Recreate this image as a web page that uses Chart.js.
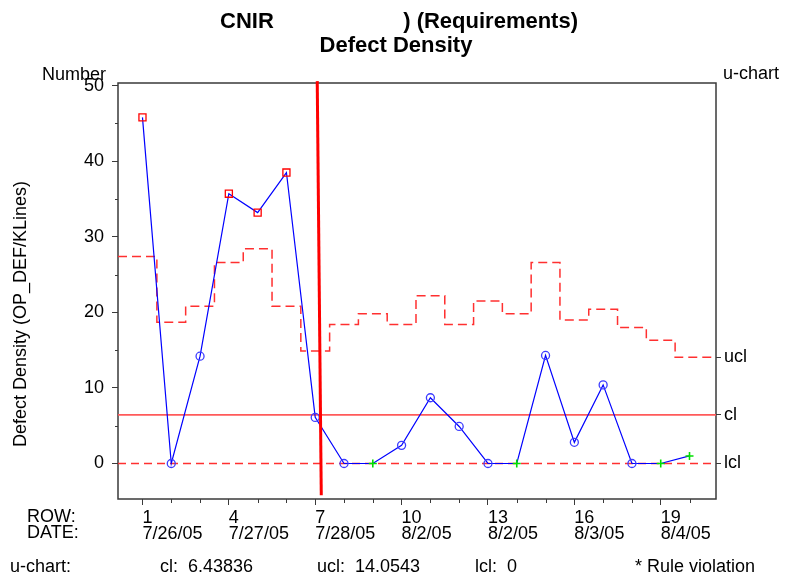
<!DOCTYPE html>
<html>
<head>
<meta charset="utf-8">
<script src="https://cdn.jsdelivr.net/npm/chart.js@4.4.1/dist/chart.umd.min.js"></script>
<style>
  html, body { margin: 0; padding: 0; background: #fff; }
  #wrap { width: 786px; height: 579px; position: relative; }
</style>
</head>
<body>
<div id="wrap"><canvas id="uChart"></canvas></div>
<script>
// --- values ---
const rows = [1, 2, 3, 4, 5, 6, 7, 8, 9, 10, 11, 12, 13, 14, 15, 16, 17, 18, 19, 20];
const defectDensity = [45.8, 0, 14.2, 35.7, 33.2, 38.5, 6.1, 0, 0, 2.4, 8.7, 4.9, 0, 0, 14.3, 2.8, 10.4, 0, 0, 1.0];
const uclSteps = [27.4, 18.7, 20.8, 26.6, 28.4, 20.8, 14.9, 18.4, 19.8, 18.4, 22.2, 18.4, 21.5, 19.8, 26.6, 19.0, 20.4, 18.0, 16.3, 14.0543];
// rule = rule violation (square), ok = normal (circle), plus = green cross
const pointKind = ['rule', 'ok', 'ok', 'rule', 'rule', 'rule', 'ok', 'ok', 'plus', 'ok',
                   'ok', 'ok', 'ok', 'plus', 'ok', 'ok', 'ok', 'ok', 'plus', 'plus'];
const tickRows = [1, 4, 7, 10, 13, 16, 19];
const tickDates = ['7/26/05', '7/27/05', '7/28/05', '8/2/05', '8/2/05', '8/3/05', '8/4/05'];
const yMajor = [0, 10, 20, 30, 40, 50];
const yMinor = [5, 15, 25, 35, 45];
const centerLine = 6.43836;
const upperLimit = 14.0543;
const lowerLimit = 0;
const limitNames = ['lcl', 'cl', 'ucl'];
const phaseX = [7.07, 7.21];   // phase-change marker (slightly slanted in the original)
const phaseY = [50.6, -4.2];

const X_MIN = 0.15, X_MAX = 20.92;
const Y_MIN = -4.7, Y_MAX = 50.35;
const FONT = '"Liberation Sans", Arial, Helvetica, sans-serif';

// step line for the varying upper limit
const uclPoints = [];
uclSteps.forEach((u, i) => {
    uclPoints.push({ x: i === 0 ? X_MIN : rows[i] - 0.5, y: u });
    uclPoints.push({ x: i === uclSteps.length - 1 ? X_MAX : rows[i] + 0.5, y: u });
});

const markerStyle = { rule: 'rect', ok: 'circle', plus: 'cross' };
const markerColor = { rule: '#ff0000', ok: '#3c3cff', plus: '#00e000' };
const markerRadius = { rule: 5, ok: 4, plus: 4 };

// frame, minor ticks and the free text around the plot
const decorations = {
    id: 'decorations',
    beforeDatasetsDraw(chart) {
        const { ctx, chartArea: a } = chart;
        ctx.save();
        ctx.strokeStyle = '#3a3a3a';
        ctx.lineWidth = 1.5;
        ctx.strokeRect(a.left, a.top, a.right - a.left, a.bottom - a.top);
        ctx.restore();
    },
    afterDraw(chart) {
        const { ctx, chartArea: a, scales } = chart;
        ctx.save();

        // minor ticks
        ctx.strokeStyle = '#3a3a3a';
        ctx.lineWidth = 1;
        rows.filter(r => !tickRows.includes(r)).forEach(r => {
            const px = Math.round(scales.x.getPixelForValue(r)) + 0.5;
            ctx.beginPath(); ctx.moveTo(px, a.bottom); ctx.lineTo(px, a.bottom + 4); ctx.stroke();
        });
        yMinor.forEach(v => {
            const py = Math.round(scales.y.getPixelForValue(v)) + 0.5;
            ctx.beginPath(); ctx.moveTo(a.left - 3, py); ctx.lineTo(a.left, py); ctx.stroke();
        });

        ctx.fillStyle = '#000';
        ctx.textBaseline = 'alphabetic';

        // title
        ctx.font = 'bold 22px ' + FONT;
        ctx.textAlign = 'left';
        ctx.fillText('CNIR', 220, 28);
        ctx.textAlign = 'right';
        ctx.fillText(') (Requirements)', 578, 28);
        ctx.textAlign = 'center';
        ctx.fillText('Defect Density', 396, 52);

        ctx.font = '18px ' + FONT;
        ctx.textAlign = 'left';
        ctx.fillText('Number', 42, 80);
        ctx.fillText('u-chart', 723, 79);

        ctx.fillText('ROW:', 27, 522);
        ctx.fillText('DATE:', 27, 538);

        ctx.fillText('u-chart:', 10, 572);
        ctx.fillText('cl:  ' + centerLine, 160, 572);
        ctx.fillText('ucl:  ' + upperLimit, 317, 572);
        ctx.fillText('lcl:  ' + lowerLimit, 475, 572);
        ctx.fillText('* Rule violation', 635, 572);

        // y axis title
        ctx.translate(21, 314);
        ctx.rotate(-Math.PI / 2);
        ctx.textAlign = 'center';
        ctx.textBaseline = 'middle';
        ctx.fillText('Defect Density (OP_DEF/KLines)', 0, 0);

        ctx.restore();
    }
};

const ctx = document.getElementById('uChart').getContext('2d');

new Chart(ctx, {
    type: 'line',
    data: {
        datasets: [
            {
                label: 'phase',
                data: phaseX.map((x, i) => ({ x, y: phaseY[i] })),
                borderColor: '#ff0000',
                borderWidth: 3,
                pointRadius: 0,
                clip: false,
                order: 0
            },
            {
                label: 'Defect Density',
                data: rows.map((r, i) => ({ x: r, y: defectDensity[i] })),
                borderColor: '#0000ff',
                borderWidth: 1.2,
                pointStyle: pointKind.map(k => markerStyle[k]),
                pointRadius: pointKind.map(k => markerRadius[k]),
                pointBorderColor: pointKind.map(k => markerColor[k]),
                pointBackgroundColor: 'rgba(0,0,0,0)',
                pointBorderWidth: pointKind.map(k => k === 'plus' ? 1.6 : 1.3),
                order: 1
            },
            {
                label: 'ucl',
                data: uclPoints,
                borderColor: '#ff3030',
                borderWidth: 1.5,
                borderDash: [9, 5],
                pointRadius: 0,
                order: 2
            },
            {
                label: 'cl',
                data: [{ x: X_MIN, y: centerLine }, { x: X_MAX, y: centerLine }],
                borderColor: '#ff5a5a',
                borderWidth: 1.6,
                pointRadius: 0,
                order: 3
            },
            {
                label: 'lcl',
                data: [{ x: X_MIN, y: lowerLimit }, { x: X_MAX, y: lowerLimit }],
                borderColor: '#ff3030',
                borderWidth: 1.5,
                borderDash: [8, 5],
                pointRadius: 0,
                order: 4
            }
        ]
    },
    options: {
        responsive: true,
        maintainAspectRatio: false,
        animation: false,
        layout: { padding: { top: 83, left: 0, right: 0, bottom: 0 } },
        plugins: {
            legend: { display: false },
            tooltip: { enabled: false },
            title: { display: false }
        },
        scales: {
            x: {
                type: 'linear',
                min: X_MIN,
                max: X_MAX,
                afterBuildTicks: s => { s.ticks = tickRows.map(v => ({ value: v })); },
                afterFit: s => { s.height = 80; },
                border: { display: false },
                grid: { drawOnChartArea: false, tickLength: 6, color: '#3a3a3a', lineWidth: 1 },
                ticks: {
                    autoSkip: false,
                    maxRotation: 0,
                    align: 'start',
                    padding: 5,
                    color: '#000',
                    font: { family: FONT, size: 18, lineHeight: 0.9 },
                    callback: v => [String(v), tickDates[tickRows.indexOf(v)]]
                }
            },
            y: {
                type: 'linear',
                position: 'left',
                min: Y_MIN,
                max: Y_MAX,
                afterBuildTicks: s => { s.ticks = yMajor.map(v => ({ value: v })); },
                afterFit: s => { s.width = 118; },
                border: { display: false },
                grid: { drawOnChartArea: false, tickLength: 6, color: '#3a3a3a', lineWidth: 1 },
                ticks: {
                    padding: 8,
                    color: '#000',
                    font: { family: FONT, size: 18 }
                }
            },
            y2: {
                type: 'linear',
                position: 'right',
                min: Y_MIN,
                max: Y_MAX,
                afterBuildTicks: s => {
                    s.ticks = [lowerLimit, centerLine, upperLimit].map(v => ({ value: v }));
                },
                afterFit: s => { s.width = 70; },
                border: { display: false },
                grid: { drawOnChartArea: false, tickLength: 5, color: '#3a3a3a', lineWidth: 1 },
                ticks: {
                    padding: 3,
                    color: '#000',
                    font: { family: FONT, size: 18 },
                    callback: (v, i) => limitNames[i]
                }
            }
        }
    },
    plugins: [decorations]
});
</script>
</body>
</html>
